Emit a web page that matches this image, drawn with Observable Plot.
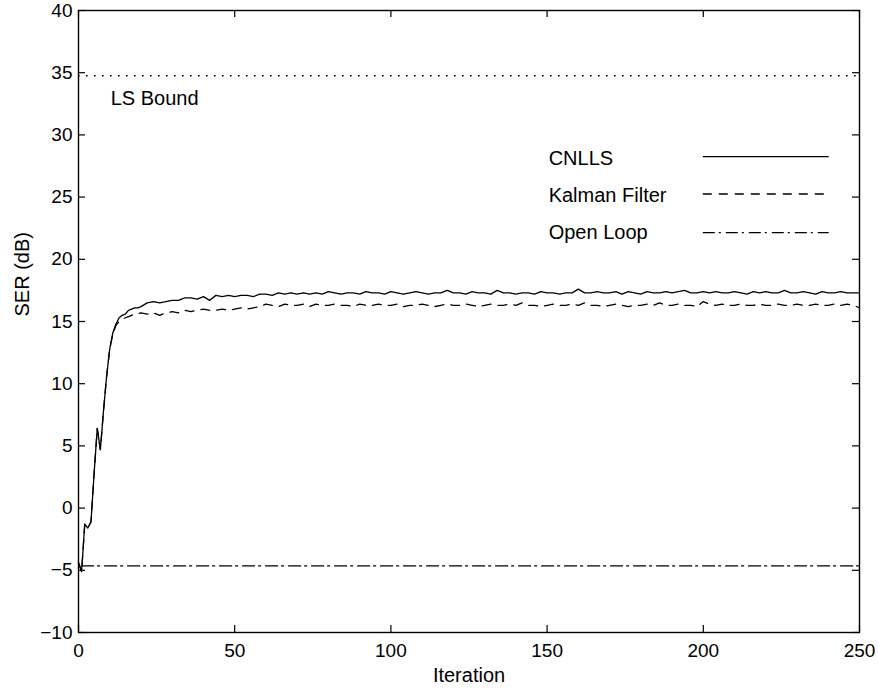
<!DOCTYPE html>
<html><head><meta charset="utf-8">
<script src="https://cdn.jsdelivr.net/npm/d3@7"></script>
<script src="https://cdn.jsdelivr.net/npm/@observablehq/plot@0.6"></script>
<style>body{margin:0;background:#fff}</style>
</head><body><div id="chart"></div><script>
// ---- data ----
const xTicks = [0, 50, 100, 150, 200, 250];
const yTicks = [-10, -5, 0, 5, 10, 15, 20, 25, 30, 35, 40];
const seriesNames = ["CNLLS", "Kalman Filter", "Open Loop"];
const lsBoundLabel = "LS Bound";
const lsBound = 34.75;

const cnllsIter = [0,1,2,3,4,5,6,7,8,9,10,11,12,13,14,15,16,17,18,19,20,
 22,24,26,28,30,32,34,36,38,40,42,44,46,48,50,52,54,56,58,60,62,64,66,68,70,72,74,76,78,80,
 82,84,86,88,90,92,94,96,98,100,102,104,106,108,110,112,114,116,118,120,122,124,126,128,130,
 132,134,136,138,140,142,144,146,148,150,152,154,156,158,160,162,164,166,168,170,172,174,176,178,180,
 182,184,186,188,190,192,194,196,198,200,202,204,206,208,210,212,214,216,218,220,222,224,226,228,230,
 232,234,236,238,240,242,244,246,248,250];
const cnllsSER = [-4.4,-5.1,-1.3,-1.6,-1.1,2.8,6.4,4.7,7.8,10.6,12.8,14.1,14.8,15.3,15.5,15.6,15.9,16.0,16.1,16.1,16.2,
 16.5,16.6,16.5,16.6,16.7,16.7,16.9,16.9,16.8,17.0,16.7,17.1,17.0,17.1,17.0,17.1,17.1,17.0,17.2,17.2,17.1,17.3,17.2,17.3,17.2,17.3,17.2,17.3,17.2,17.4,
 17.3,17.2,17.3,17.3,17.2,17.4,17.3,17.3,17.2,17.4,17.3,17.2,17.3,17.4,17.3,17.2,17.3,17.3,17.5,17.3,17.3,17.2,17.4,17.3,17.3,
 17.2,17.5,17.3,17.3,17.2,17.3,17.3,17.2,17.4,17.3,17.3,17.2,17.3,17.3,17.6,17.3,17.3,17.4,17.3,17.3,17.4,17.2,17.4,17.3,17.2,
 17.4,17.3,17.3,17.4,17.3,17.4,17.5,17.3,17.3,17.4,17.3,17.4,17.3,17.3,17.4,17.3,17.2,17.4,17.3,17.4,17.3,17.3,17.5,17.3,17.3,
 17.4,17.3,17.2,17.4,17.3,17.3,17.4,17.3,17.3,17.3];

const kalmanIter = [0,1,2,3,4,5,6,7,8,9,10,11,12,13,14,15,16,17,18,19,20,
 22,24,26,28,30,32,34,36,38,40,42,44,46,48,50,52,54,56,58,60,62,64,66,68,70,72,74,76,78,80,
 82,84,86,88,90,92,94,96,98,100,102,104,106,108,110,112,114,116,118,120,122,124,126,128,130,
 132,134,136,138,140,142,144,146,148,150,152,154,156,158,160,162,164,166,168,170,172,174,176,178,180,
 182,184,186,188,190,192,194,196,198,200,202,204,206,208,210,212,214,216,218,220,222,224,226,228,230,
 232,234,236,238,240,242,244,246,248,250];
const kalmanSER = [-4.4,-5.1,-1.3,-1.6,-1.1,2.8,6.4,4.7,7.8,10.6,12.8,14.0,14.7,15.0,15.2,15.3,15.4,15.5,15.6,15.6,15.7,
 15.6,15.7,15.5,15.7,15.8,15.7,15.9,15.8,15.9,16.0,15.9,15.9,16.0,15.9,16.0,16.1,16.0,16.1,16.2,16.4,16.3,16.2,16.4,16.3,16.3,16.4,16.2,16.4,16.3,16.3,
 16.4,16.3,16.3,16.2,16.4,16.3,16.3,16.4,16.3,16.3,16.4,16.2,16.3,16.3,16.4,16.3,16.2,16.3,16.4,16.3,16.3,16.4,16.3,16.2,16.3,
 16.4,16.3,16.3,16.4,16.3,16.5,16.3,16.3,16.2,16.3,16.4,16.3,16.3,16.4,16.3,16.5,16.3,16.3,16.2,16.3,16.4,16.3,16.2,16.3,16.3,
 16.4,16.3,16.5,16.3,16.3,16.4,16.3,16.3,16.2,16.6,16.4,16.3,16.4,16.3,16.3,16.4,16.3,16.3,16.4,16.3,16.3,16.4,16.3,16.3,16.4,
 16.3,16.3,16.4,16.3,16.3,16.4,16.3,16.4,16.3,16.1];

const openLoopIter = [1, 250];
const openLoopSER = [-4.65, -4.65];

// ---- build tables ----
const cnlls = cnllsIter.map((x, i) => ({x, y: cnllsSER[i]}));
const kalman = kalmanIter.map((x, i) => ({x, y: kalmanSER[i]}));
const openLoop = openLoopIter.map((x, i) => ({x, y: openLoopSER[i]}));

const font = "'Liberation Sans', Arial, Helvetica, sans-serif";
const dashes = [null, "9,7", "12,4,2,5"];
const legendY = [28.1, 25.15, 22.15];

const W = 878, H = 692, mL = 78, mR = 19, mT = 10, mB = 60;
const fw = W - mL - mR, fh = H - mT - mB, tk = 7;

const chart = Plot.plot({
  width: W,
  height: H,
  marginLeft: mL,
  marginRight: mR,
  marginTop: mT,
  marginBottom: mB,
  style: {fontFamily: font, fontSize: "19px", color: "black", background: "white"},
  x: {domain: [0, 250], ticks: xTicks},
  y: {domain: [-10, 40], ticks: yTicks},
  marks: [
    // tick labels
    Plot.axisX({anchor: "bottom", ticks: xTicks, tickSize: 0, tickPadding: 11, label: null, fontSize: 19}),
    Plot.axisY({anchor: "left", ticks: yTicks, tickSize: 0, tickPadding: 6, label: null, fontSize: 19}),
    // inward ticks on all sides
    Plot.ruleX(xTicks, {insetTop: fh - tk, stroke: "black", strokeWidth: 1.2}),
    Plot.ruleX(xTicks, {insetBottom: fh - tk, stroke: "black", strokeWidth: 1.2}),
    Plot.ruleY(yTicks, {insetRight: fw - tk, stroke: "black", strokeWidth: 1.2}),
    Plot.ruleY(yTicks, {insetLeft: fw - tk, stroke: "black", strokeWidth: 1.2}),
    Plot.frame({stroke: "black", strokeWidth: 1.4}),
    // LS bound
    Plot.ruleY([lsBound], {stroke: "black", strokeWidth: 1.6, strokeDasharray: "1.6,6.4"}),
    Plot.text([lsBoundLabel], {x: () => 10.3, y: () => 32.95, textAnchor: "start", fontSize: 20}),
    // series
    Plot.line(openLoop, {x: "x", y: "y", stroke: "black", strokeWidth: 1.3, strokeDasharray: dashes[2]}),
    Plot.line(kalman, {x: "x", y: "y", stroke: "black", strokeWidth: 1.3, strokeDasharray: dashes[1]}),
    Plot.line(cnlls, {x: "x", y: "y", stroke: "black", strokeWidth: 1.3}),
    // legend
    Plot.text(seriesNames, {x: () => 150.5, y: (d, i) => legendY[i], textAnchor: "start", fontSize: 20}),
    Plot.ruleY([legendY[0] + 0.15], {x1: 200, x2: 240.3, stroke: "black", strokeWidth: 1.3}),
    Plot.ruleY([legendY[1] + 0.1], {x1: 200, x2: 240.3, stroke: "black", strokeWidth: 1.3, strokeDasharray: dashes[1]}),
    Plot.ruleY([legendY[2]], {x1: 200, x2: 240.3, stroke: "black", strokeWidth: 1.3, strokeDasharray: dashes[2]}),
    // axis titles
    Plot.text(["Iteration"], {frameAnchor: "bottom", dy: 49, lineAnchor: "bottom", fontSize: 20}),
    Plot.text(["SER (dB)"], {frameAnchor: "left", y: () => 15.4, dx: -56, rotate: -90, fontSize: 20})
  ]
});
document.getElementById("chart").appendChild(chart);
</script></body></html>
